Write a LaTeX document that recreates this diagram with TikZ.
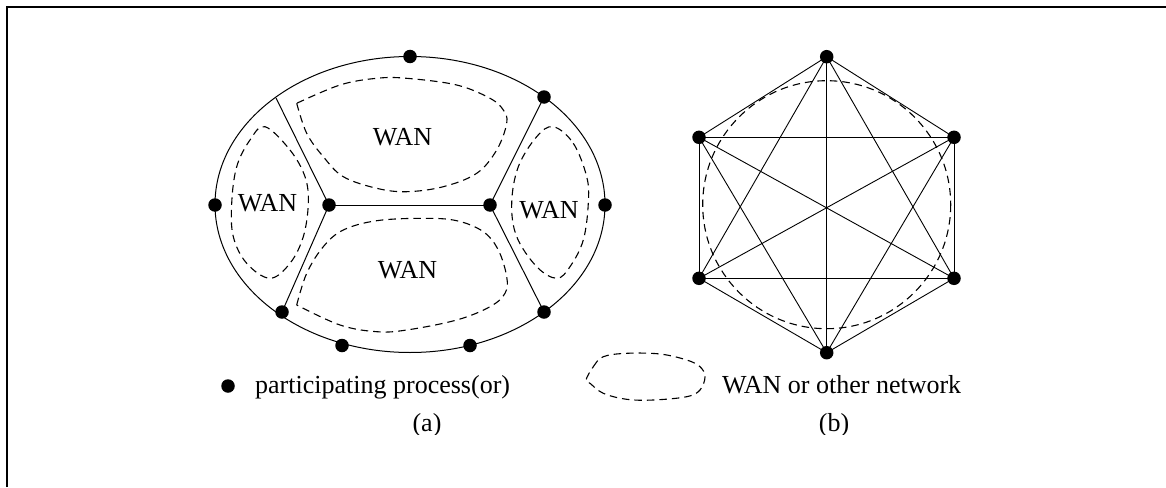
\documentclass[tikz,border=0pt]{standalone}
\usepackage{fontspec}
\setmainfont{Liberation Serif}
\begin{document}
\begin{tikzpicture}[x=1pt,y=-1pt,
  dot/.style={circle,fill=black,inner sep=0pt,minimum size=13.5pt},
  wire/.style={line width=1pt},
  net/.style={dash pattern=on 7.5pt off 5pt, line width=1.1pt},
  lbl/.style={font=\fontsize{26}{30}\selectfont, inner sep=0pt}]
\useasboundingbox (0,0) rectangle (1166,487);
% frame
\draw[line width=2.2pt] (7,487) -- (7,7) -- (1166,7);

% ---------- figure (a) ----------
\draw[wire] (410,204.5) ellipse [x radius=195, y radius=148];
\coordinate (j) at (276,98);
\node[dot] (pT)  at (410,56.5) {};
\node[dot] (pUR) at (544,97) {};
\node[dot] (pR)  at (605,205) {};
\node[dot] (pLR) at (544,312) {};
\node[dot] (pBR) at (470,345.5) {};
\node[dot] (pBL) at (342,345.5) {};
\node[dot] (pLL) at (282,312) {};
\node[dot] (pL)  at (215,205) {};
\node[dot] (iL)  at (329,205) {};
\node[dot] (iR)  at (490,205) {};
\draw[wire] (j) -- (iL.center) -- (pLL.center);
\draw[wire] (iL.center) -- (iR.center);
\draw[wire] (pUR.center) -- (iR.center) -- (pLR.center);

% dashed networks
\draw[net] plot[smooth,tension=0.6] coordinates {(296.7,103.3) (306.7,133.3) (323.3,156.7) (343.3,176.7) (376.7,188.3) (406.7,191.7) (443.3,186.7) (476.7,173.3) (496.7,150) (506.7,123.3) (503.3,110) (490,98.3) (456.7,85) (406.7,78.3) (376.7,78.3) (340,85) (296.7,103.3)};
\draw[net] plot[smooth,tension=0.6] coordinates {(296.7,305) (306.7,273.3) (323.3,246.7) (343.3,230) (376.7,220.7) (423.3,218.3) (456.7,220.7) (483.3,231.7) (498.3,250) (506.7,276.7) (505,293.3) (490,306.7) (456.7,320) (406.7,330) (376.7,331.7) (340,325) (296.7,305)};
\draw[net] plot[smooth cycle,tension=0.6] coordinates {(265,126.7) (290,150) (305,176.7) (308.3,203.3) (303.3,236.7) (290,263.3) (270,278.3) (246.7,263.3) (233.3,236.7) (231.7,203.3) (236.7,166.7) (250,140)};
\draw[net] plot[smooth cycle,tension=0.6] coordinates {(553.3,126.7) (573.3,143.3) (586.7,176.7) (588.3,203.3) (583.3,240) (570,266.7) (556.7,278.3) (536.7,266.7) (516.7,236.7) (511.7,203.3) (518.3,166.7) (536.7,136.7)};

\node[lbl] (w1) at (402.5,136.7) {WAN};
\node[lbl] (w2) at (267.5,203.3) {WAN};
\node[lbl] (w3) at (549,210) {WAN};
\node[lbl] (w4) at (407.5,270) {WAN};

% ---------- figure (b) ----------
\draw[net] (826.7,204.7) circle [radius=124];
\node[dot] (hT)  at (826.7,56.7) {};
\node[dot] (hUL) at (699,137.3) {};
\node[dot] (hUR) at (954,137.3) {};
\node[dot] (hLL) at (699,278.3) {};
\node[dot] (hLR) at (954,278.3) {};
\node[dot] (hB)  at (826.7,352.7) {};
\foreach \a/\b in {hT/hUL,hT/hUR,hT/hLL,hT/hLR,hT/hB,
                   hUL/hUR,hUL/hLL,hUL/hLR,hUL/hB,
                   hUR/hLL,hUR/hLR,hUR/hB,
                   hLL/hLR,hLL/hB,hLR/hB}
  \draw[line width=0.9pt] (\a.center) -- (\b.center);

% ---------- legend ----------
\node[dot] (ldot) at (228,386) {};
\node[lbl,anchor=base west] (ltxt1) at (255,393) {participating process(or)};
\draw[net] plot[smooth cycle,tension=0.6] coordinates {(586,380) (593.3,366.7) (603.3,356.7) (626.7,353.3) (660,354) (686.7,360) (700,366.7) (705,376.7) (700,390) (686.7,396.7) (653.3,400) (626.7,399.3) (603.3,393.3) (590,383.3)};
\node[lbl,anchor=base west] (ltxt2) at (722,393) {WAN or other network};

\begin{scope}
\clip (0,0) rectangle (1166,434);
\node[lbl,anchor=base] (capa) at (427,431) {(a)};
\node[lbl,anchor=base] (capb) at (834,431) {(b)};
\end{scope}
\end{tikzpicture}
\end{document}
